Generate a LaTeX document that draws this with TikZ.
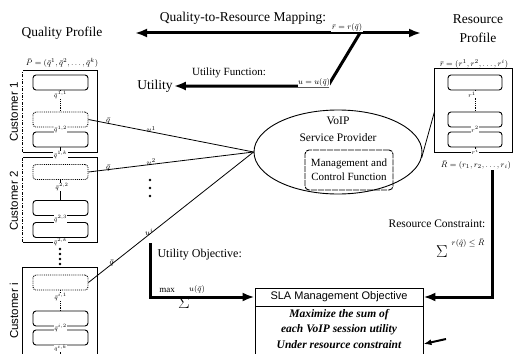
\documentclass[tikz,border=0pt]{standalone}
\usepackage{fontspec}
\setmainfont{Liberation Serif}
\setsansfont{Liberation Sans}
\usetikzlibrary{arrows.meta,shapes.geometric}
\begin{document}
\begin{tikzpicture}[x=1pt,y=-1pt,
  bigarrow/.style={line width=3pt,-{Latex[length=12pt,width=9pt]}},
  thinline/.style={line width=0.8pt},
  inbox/.style={draw,line width=0.9pt,rounded corners=3pt,minimum width=55pt,minimum height=15pt,inner sep=0pt},
  actbox/.style={inbox,densely dotted},
  rinbox/.style={inbox,minimum width=54pt},
  outerbox/.style={draw=none,inner sep=0pt},
  biglbl/.style={font=\fontsize{13.5}{15}\selectfont,inner sep=1pt},
  midlbl/.style={font=\fontsize{11.5}{13}\selectfont,inner sep=1pt},
  custlbl/.style={font=\sffamily\fontsize{11.5}{13}\selectfont,rotate=90,inner sep=1pt},
  tinylbl/.style={font=\fontsize{6}{7}\selectfont,fill=white,inner sep=0.2pt},
  mathlbl/.style={font=\fontsize{8}{9}\selectfont,inner sep=0.5pt},
  dotnode/.style={circle,fill,inner sep=0pt,minimum size=2.6pt}
]
\useasboundingbox (0,0) rectangle (513,353);
\clip (0,0) rectangle (513,353);

% ---------- headings ----------
\node[biglbl] (qp) at (62,33) {Quality Profile};
\node[biglbl] (rp1) at (478,19) {Resource};
\node[biglbl] (rp2) at (478,38) {Profile};
\node[biglbl] (util) at (155,86) {Utility};

% ---------- top arrows ----------
\coordinate (tl) at (135,33);
\coordinate (tr) at (421,33);
\coordinate (dj) at (360,33);
\coordinate (uk) at (328,86);
\draw[line width=3pt,{Latex[length=12pt,width=9pt]}-{Latex[length=12pt,width=9pt]}] (tl) -- (tr);
\draw[bigarrow] (dj) -- (uk) -- (util.east);
\node[font=\fontsize{13.5}{15}\selectfont] (qrm) at (243,18) {Quality-to-Resource Mapping:};
\node[mathlbl,fill=white] (rmap) at (347,28) {$\bar{r}=r(\bar{q})$};
\node[font=\fontsize{11}{13}\selectfont] (uf) at (229,73) {Utility Function:};
\node[mathlbl,fill=white] (umap) at (314,82) {$u=u(\bar{q})$};

% ---------- customer 1 ----------
\node[outerbox,minimum width=74pt,minimum height=81pt] (c1) at (60,111.5) {};
\draw[thinline] (c1.north west) -- (c1.north east) -- (c1.south east) -- (c1.south west);
\draw[thinline,dash pattern=on 3pt off 1.5pt on 0.8pt off 1.5pt] (c1.south west) -- (c1.north west);
\node[mathlbl] (p1) at (62,63) {$\bar{P}=(\bar{q}^{1},\bar{q}^{2},\ldots,\bar{q}^{k})$};
\node[inbox] (b11) at (60.5,82.5) {};
\node[actbox] (b12) at (60.5,119.5) {};
\node[inbox] (b13) at (60.5,139.5) {};
\draw[thinline,densely dotted] (b11.south) -- (b12.north);
\draw[thinline] (b12.south) -- (b13.north);
\draw[thinline] (b13.south) -- (b13.south |- c1.south);
\node[tinylbl] at (60.5,95) {$\bar{q}^{1,1}$};
\node[tinylbl] at (60.5,129.5) {$\bar{q}^{1,2}$};
\node[custlbl] (cl1) at (14,112) {Customer 1};

% ---------- customer 2 ----------
\node[outerbox,minimum width=74pt,minimum height=84pt] (c2) at (60,200) {};
\draw[thinline] (c2.north west) -- (c2.north east) -- (c2.south east) -- (c2.south west);
\draw[thinline,dash pattern=on 3pt off 1.5pt on 0.8pt off 1.5pt] (c2.south west) -- (c2.north west);
\draw[thinline] (b13.south |- c1.south) -- (c2.north);
\node[tinylbl] at (60.5,155) {$\bar{q}^{1,k}$};
\node[actbox] (b21) at (60.5,172) {};
\node[inbox] (b22) at (60.5,208) {};
\node[inbox] (b23) at (60.5,230) {};
\draw[thinline] (b21.south) -- (b22.north);
\draw[thinline] (b22.south) -- (b23.north);
\draw[thinline] (b23.south) -- (c2.south);
\node[tinylbl] at (62,187) {$\bar{q}^{2,2}$};
\node[tinylbl] at (60.5,219) {$\bar{q}^{2,3}$};
\node[tinylbl] at (60.5,242) {$\bar{q}^{2,k}$};
\node[custlbl] (cl2) at (14,201) {Customer 2};

% dots between customers
\node[dotnode] (cd1) at (60,249) {};
\node[dotnode] (cd2) at (60,254) {};
\node[dotnode] (cd3) at (60,259) {};
\node[dotnode] (cd4) at (60,264) {};

% ---------- customer i ----------
\node[outerbox,minimum width=74pt,minimum height=100pt] (ci) at (60,318) {};
\draw[thinline] (ci.south west) -- (ci.north west) -- (ci.north east) -- (ci.south east);
\node[actbox] (bi1) at (60.5,282.5) {};
\node[inbox] (bi2) at (60.5,318.5) {};
\node[inbox] (bi3) at (60.5,337.5) {};
\draw[thinline,densely dotted] (bi1.south) -- (bi2.north);
\draw[thinline] (bi2.south) -- (bi3.north);
\draw[thinline] (bi3.south) -- (60.5,360);
\node[tinylbl] at (60.5,297) {$\bar{q}^{i,1}$};
\node[tinylbl] at (60.5,328) {$\bar{q}^{i,2}$};
\node[tinylbl,font=\fontsize{5}{6}\selectfont] at (60.5,348.5) {$\bar{q}^{i,k}$};
\node[custlbl] (cli) at (14,311) {Customer i};

% ---------- VoIP service provider ----------
\node[ellipse,draw,line width=0.9pt,minimum width=168pt,minimum height=84pt,inner sep=0pt] (vsp) at (338,152) {};
\node[midlbl] (voip) at (338,121) {VoIP};
\node[midlbl] (sp) at (338,138) {Service Provider};
\node[draw,line width=0.9pt,dash pattern=on 6pt off 1pt,rounded corners=4pt,minimum width=88pt,minimum height=40pt,inner sep=1pt,align=center,font=\fontsize{11}{14}\selectfont] (mcf) at (349,170) {Management and\\Control Function};

% customer connectors
\draw[thinline] (b12.east) -- (vsp.west)
  node[mathlbl,pos=0.12,above=-2pt] {$\bar{q}$}
  node[mathlbl,pos=0.38,above=-2pt] {$u^{1}$};
\draw[thinline] (b21.east) -- (vsp.west)
  node[mathlbl,pos=0.12,above=-2pt] {$\bar{q}$}
  node[mathlbl,pos=0.38,above=-2pt] {$u^{2}$};
\draw[thinline] (bi1.east) -- (vsp.west)
  node[mathlbl,pos=0.14,above left=-3pt] {$\bar{q}$}
  node[mathlbl,pos=0.38,above left=-3pt] {$u^{i}$};
\node[dotnode] (ud1) at (150,180) {};
\node[dotnode] (ud2) at (150,188) {};
\node[dotnode] (ud3) at (150,196) {};

% ---------- resource profile ----------
\node[outerbox,minimum width=77pt,minimum height=83pt] (res) at (473.5,110.5) {};
\draw[thinline] (res.north west) rectangle (res.south east);
\node[mathlbl] (rvec) at (474,64) {$\bar{r}=(r^{1},r^{2},\ldots,r^{i})$};
\node[rinbox] (rb1) at (475,82.5) {};
\node[rinbox] (rb2) at (475,119.5) {};
\node[rinbox] (rb3) at (475,139.5) {};
\draw[thinline,densely dotted] (rb1.south) -- (rb2.north);
\draw[thinline] (rb2.south) -- (rb3.north);
\draw[thinline] (rb3.south) -- (res.south -| rb3.south);
\node[tinylbl] at (472,95) {$r^{1}$};
\node[tinylbl] at (475,129.5) {$r^{2}$};
\node[tinylbl] at (475,152) {$r^{i}$};
\node[mathlbl] (Rvec) at (476,165) {$\bar{R}=(r_{1},r_{2},\ldots,r_{i})$};
\draw[thinline] (vsp.-4) -- (res.west);

% ---------- SLA objective ----------
\node[draw,line width=0.9pt,minimum width=168pt,minimum height=18pt,inner sep=1pt,font=\sffamily\fontsize{11}{13}\selectfont] (sla) at (339,297) {SLA Management Objective};
\node[draw,line width=0.9pt,minimum width=168pt,minimum height=62pt,anchor=north,align=center,inner sep=2pt,font=\bfseries\itshape\fontsize{11.5}{15.5}\selectfont] (slab) at (sla.south) {Maximize the sum of\\each VoIP session utility\\Under resource constraint\\[-2pt]\strut};

% utility objective arrow
\coordinate (uo) at (150,243);
\draw[bigarrow] (uo) -- (uo |- sla.west) -- (sla.west);
\node[font=\fontsize{12}{14}\selectfont,anchor=west] (uol) at (154,255) {Utility Objective:};
\node[mathlbl,font=\fontsize{9}{10}\selectfont] (mx) at (167,290) {max};
\node[font=\fontsize{16}{16}\selectfont] (sg1) at (184,303) {$\Sigma$};
\node[mathlbl] (usum) at (197,289) {$u(\bar{q})$};

% resource constraint arrow
\coordinate (rc) at (492,170);
\draw[bigarrow] (rc) -- (rc |- sla.east) -- (sla.east);
\node[font=\fontsize{11.5}{13}\selectfont] (rcl) at (437,224) {Resource Constraint:};
\node[font=\fontsize{18}{18}\selectfont] (sg2) at (442,252) {$\Sigma$};
\node[mathlbl] (rsum) at (468,243) {$r(\hat{q})\le\bar{R}$};

% small incoming arrow at the bottom right
\coordinate (ba) at (446,339);
\draw[line width=2pt,-{Latex[length=8pt,width=6pt]}] (ba) -- (slab.east |- 0,344);
\end{tikzpicture}
\end{document}
